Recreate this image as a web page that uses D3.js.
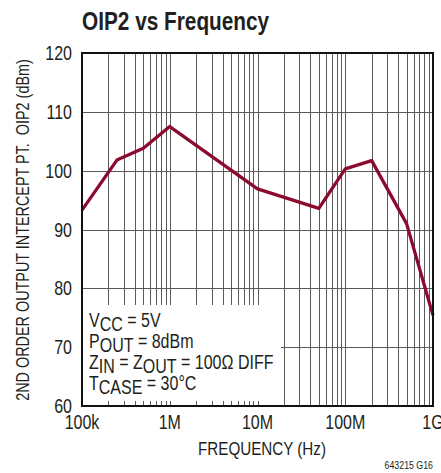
<!DOCTYPE html>
<html>
<head>
<meta charset="utf-8">
<script src="https://cdn.jsdelivr.net/npm/d3@7/dist/d3.min.js"></script>
<style>
  body { margin: 0; background: #fff; }
  svg text { font-family: "Liberation Sans", Arial, sans-serif; fill: #231f20; }
</style>
</head>
<body>
<svg id="canvas" width="441" height="473"></svg>
<script>
// data
var freqs = [1e5, 2.5e5, 5e5, 1e6, 1e7, 5e7, 1e8, 2e8, 5e8, 1e9];
var oip2  = [93.3, 101.8, 103.8, 107.5, 96.9, 93.6, 100.3, 101.7, 91.0, 75.4];
var xTicks = [1e5, 1e6, 1e7, 1e8, 1e9];
var xTickLabels = ['100k', '1M', '10M', '100M', '1G'];
var yTicks = [60, 70, 80, 90, 100, 110, 120];

var svg = d3.select('#canvas'),
    pL = 82, pR = 433, pT = 53, pB = 406,
    narrow = 0.8;

var x = d3.scaleLog().domain([1e5, 1e9]).range([pL, pR]),
    y = d3.scaleLinear().domain([60, 120]).range([pB, pT]);

// condensed text: horizontal squeeze around the anchor point
function place(sel, px, py, rot) {
    return sel.attr('transform', 'translate(' + px + ',' + py + ')' +
        (rot ? ' rotate(' + rot + ')' : '') + ' scale(' + narrow + ',1)');
}

// vertical grid: 1..9 per decade
var vGrid = [];
for (var dec = 1e5; dec < 1e9; dec *= 10) {
    for (var k = 1; k < 10; k++) vGrid.push(dec * k);
}

var grid = svg.append('g').attr('class', 'grid');
grid.selectAll('.vline')
    .data(vGrid.slice(1))
  .enter().append('line')
    .attr('class', 'vline')
    .attr('x1', function(d) { return Math.round(x(d)) + 0.5; })
    .attr('x2', function(d) { return Math.round(x(d)) + 0.5; })
    .attr('y1', pT).attr('y2', pB)
    .attr('stroke', '#5a5a5a').attr('stroke-width', 1);

grid.selectAll('.hline')
    .data(yTicks.slice(1, -1))
  .enter().append('line')
    .attr('class', 'hline')
    .attr('x1', pL).attr('x2', pR)
    .attr('y1', function(d) { return Math.round(y(d)) + 0.5; })
    .attr('y2', function(d) { return Math.round(y(d)) + 0.5; })
    .attr('stroke', '#5a5a5a').attr('stroke-width', 1);

// white box behind conditions text
svg.append('rect')
    .attr('x', pL + 1).attr('y', 305)
    .attr('width', 198).attr('height', 96)
    .attr('fill', '#fff');

// curve
var line = d3.line()
    .x(function(d) { return x(d[0]); })
    .y(function(d) { return y(d[1]); });

svg.append('path')
    .datum(d3.zip(freqs, oip2))
    .attr('d', line)
    .attr('fill', 'none')
    .attr('stroke', '#8c0a2e')
    .attr('stroke-width', 3.3)
    .attr('stroke-linejoin', 'round');

// frame
svg.append('rect')
    .attr('x', pL).attr('y', pT)
    .attr('width', pR - pL).attr('height', pB - pT)
    .attr('fill', 'none')
    .attr('stroke', '#111')
    .attr('stroke-width', 2);

// tick labels
svg.selectAll('.ylab')
    .data(yTicks)
  .enter().append('text')
    .attr('class', 'ylab')
    .each(function(d) { place(d3.select(this), 72, y(d) + 7); })
    .attr('text-anchor', 'end')
    .style('font-size', '20px')
    .text(function(d) { return d; });

svg.selectAll('.xlab')
    .data(xTicks)
  .enter().append('text')
    .attr('class', 'xlab')
    .each(function(d) { place(d3.select(this), x(d), 429); })
    .attr('text-anchor', 'middle')
    .style('font-size', '20px')
    .text(function(d, i) { return xTickLabels[i]; });

// titles
place(svg.append('text'), 82, 30)
    .style('font-size', '26px')
    .style('font-weight', 'bold')
    .text('OIP2 vs Frequency');

place(svg.append('text'), 262, 455)
    .attr('text-anchor', 'middle')
    .style('font-size', '19px')
    .text('FREQUENCY (Hz)');

place(svg.append('text'), 29, 230, -90)
    .attr('text-anchor', 'middle')
    .style('font-size', '18px')
    .style('white-space', 'pre')
    .text('2ND ORDER OUTPUT INTERCEPT PT.  OIP2 (dBm)');

place(svg.append('text'), 433, 469)
    .attr('text-anchor', 'end')
    .style('font-size', '11px')
    .text('643215 G16');

// conditions
var conds = [
    [['V', ''], ['CC', 'sub'], [' = 5V', '']],
    [['P', ''], ['OUT', 'sub'], [' = 8dBm', '']],
    [['Z', ''], ['IN', 'sub'], [' = Z', ''], ['OUT', 'sub'], [' = 100\u03A9 DIFF', '']],
    [['T', ''], ['CASE', 'sub'], [' = 30\u00B0C', '']]
];
var condY = [327, 348, 369, 390];

conds.forEach(function(parts, i) {
    var t = place(svg.append('text'), 89, condY[i])
        .style('font-size', '20px')
        .style('white-space', 'pre');
    parts.forEach(function(p, j) {
        var ts = t.append('tspan').text(p[0]);
        if (p[1] === 'sub') ts.attr('dy', 4);
        else if (j > 0 && parts[j - 1][1] === 'sub') ts.attr('dy', -4);
    });
});
</script>
</body>
</html>
